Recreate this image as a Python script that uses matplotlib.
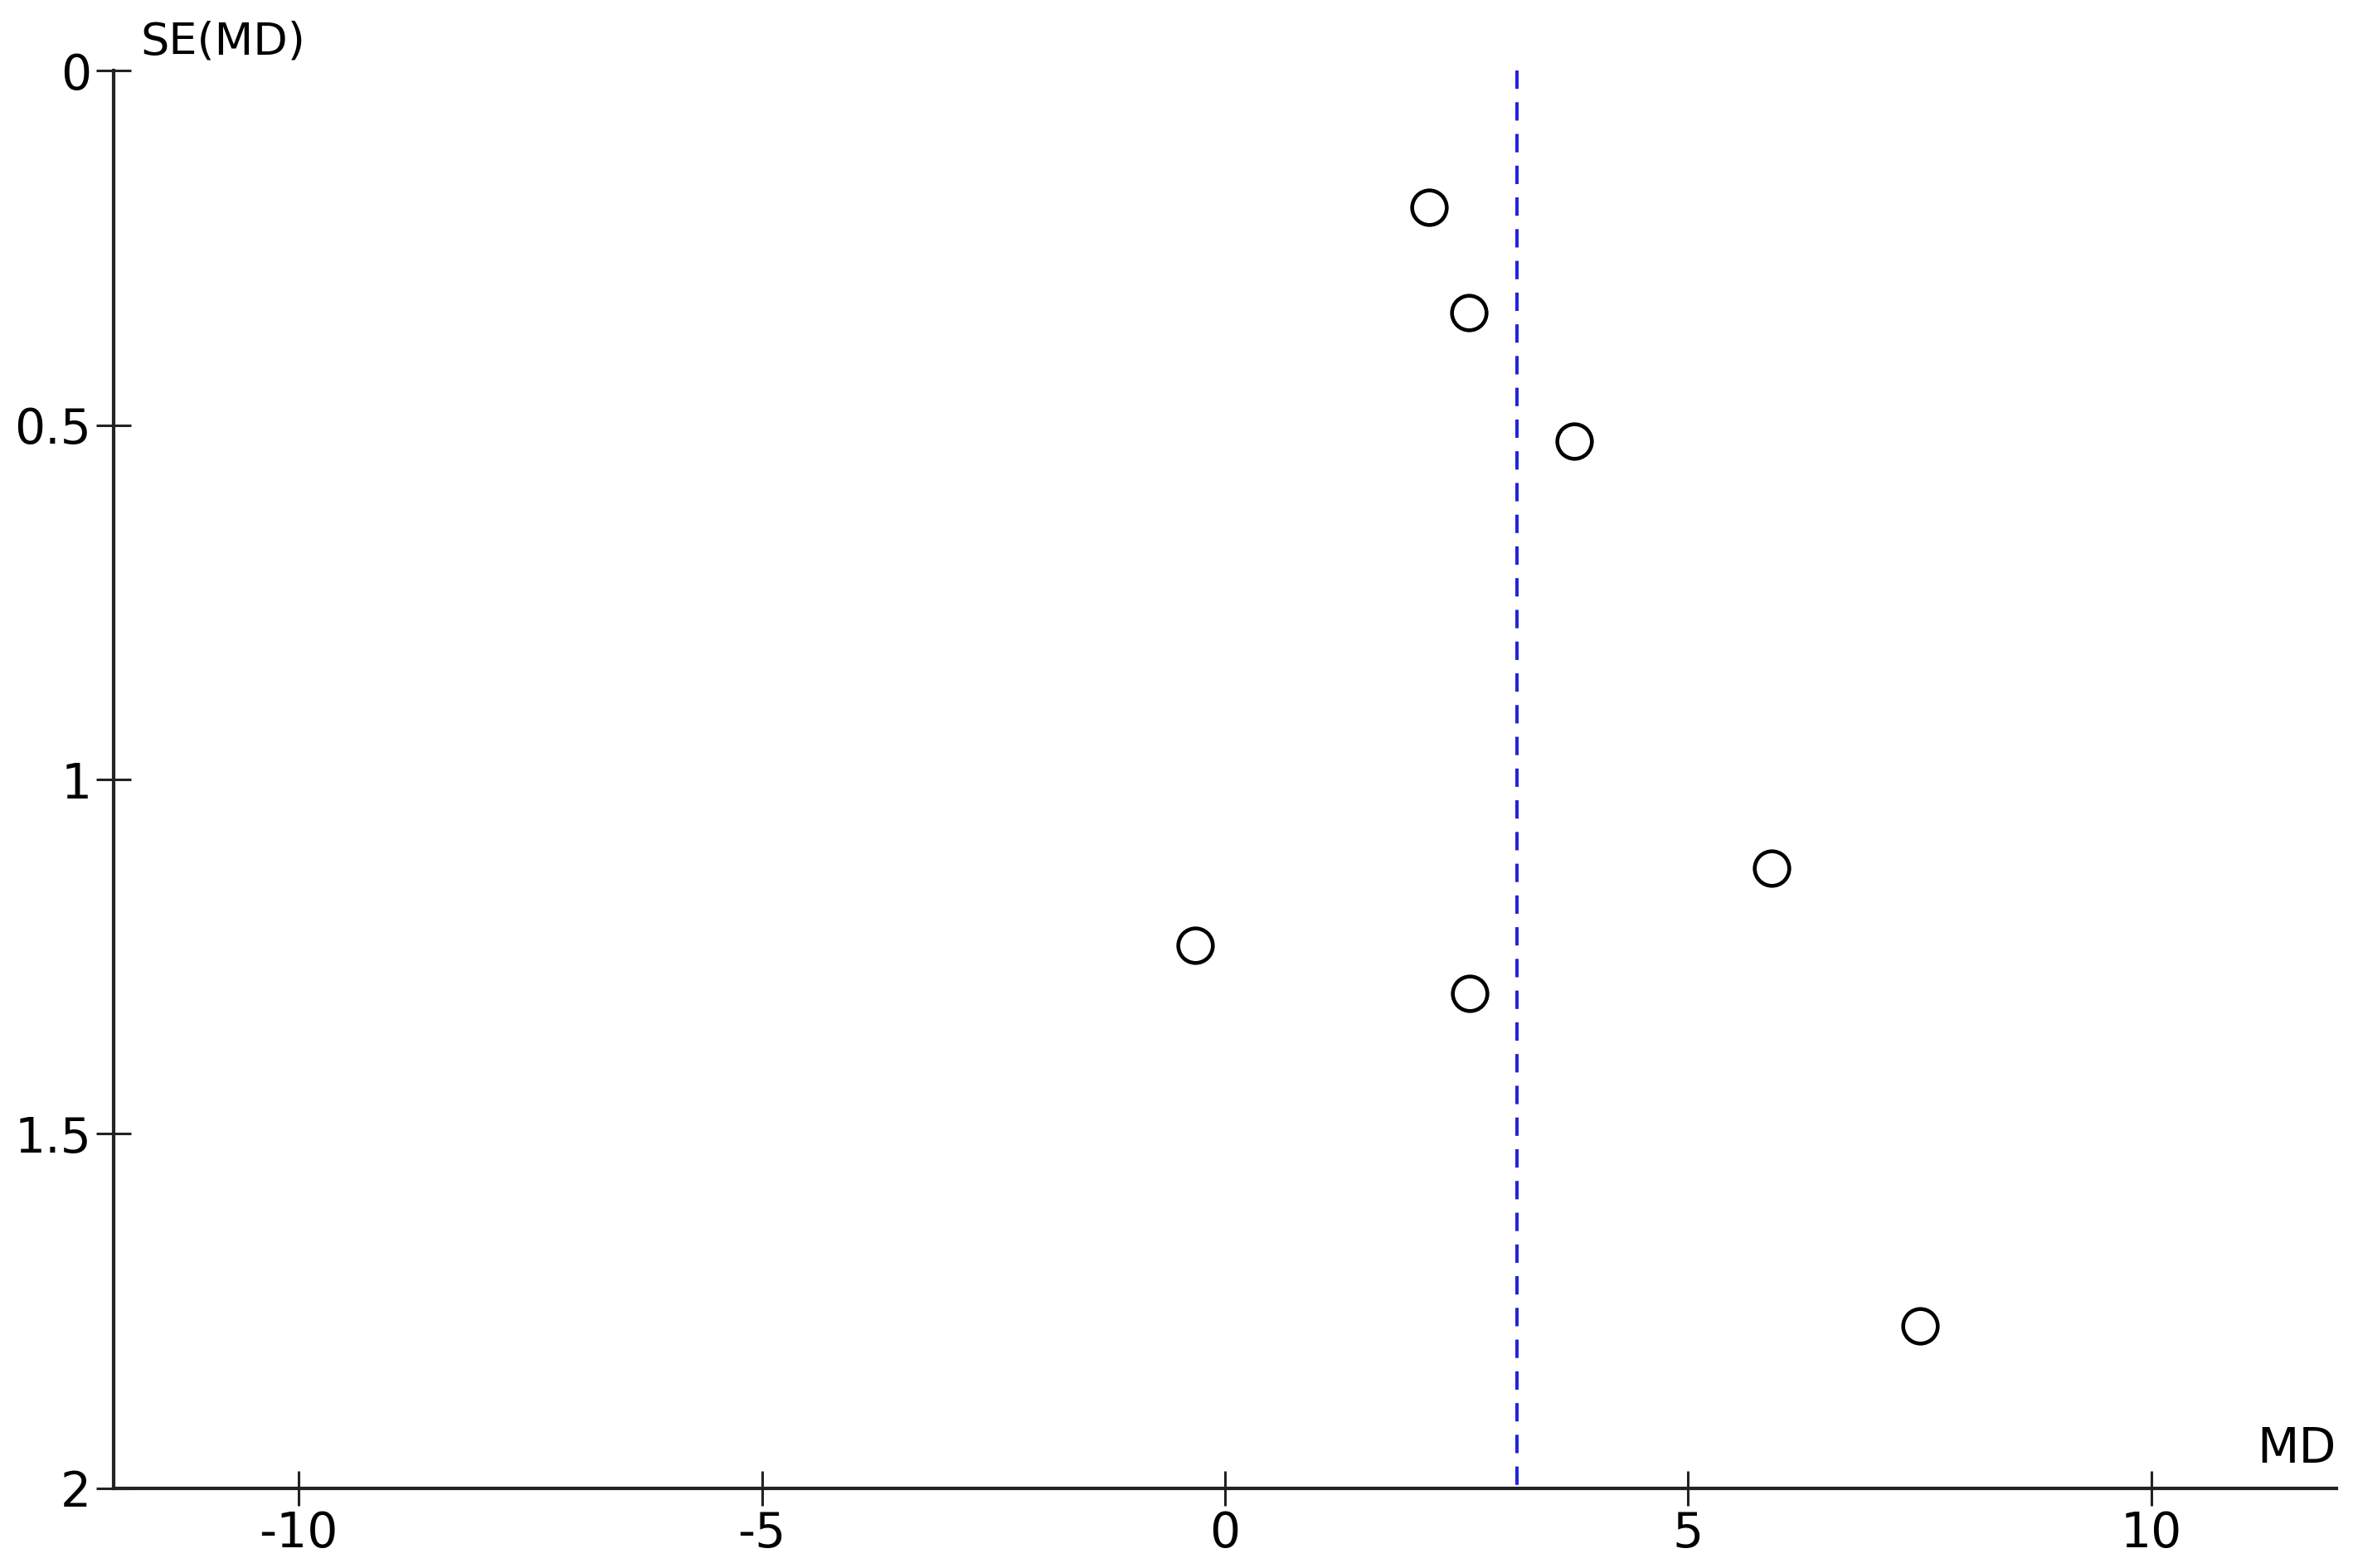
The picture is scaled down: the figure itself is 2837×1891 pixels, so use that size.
import matplotlib
matplotlib.use("Agg")
import matplotlib.pyplot as plt

# Data
md = [2.20, 2.63, 3.77, 5.90, -0.32, 2.64, 7.50]
se = [0.193, 0.341, 0.523, 1.125, 1.234, 1.302, 1.771]
pooled_md = 3.15
xticks = [-10, -5, 0, 5, 10]
yticks = [0, 0.5, 1, 1.5, 2]
ytick_labels = ["0", "0.5", "1", "1.5", "2"]

plt.rcParams['font.family'] = ['DejaVu Sans']
plt.rcParams['axes.unicode_minus'] = False
fig = plt.figure(figsize=(28.37, 18.91), dpi=100)
ax = fig.add_axes([0.0482, 0.0508, 0.993 - 0.0482, 0.955 - 0.0508])

ax.plot([pooled_md, pooled_md], [0, 2], color='#2323dd', lw=2.9,
        dashes=(5.5, 4), zorder=1)
ax.plot(md, se, linestyle='none', marker='o', markersize=30,
        markerfacecolor='white', markeredgecolor='black', markeredgewidth=3.3,
        zorder=3)

ax.set_xlim(-12, 12)
ax.set_ylim(2, 0)
ax.set_xticks(xticks)
ax.set_xticklabels([str(t) for t in xticks])
ax.set_yticks(yticks)
ax.set_yticklabels(ytick_labels)

for s in ['top', 'right']:
    ax.spines[s].set_visible(False)
for s in ['left', 'bottom']:
    ax.spines[s].set_linewidth(3.0)
    ax.spines[s].set_color('#222222')

ax.tick_params(axis='both', direction='inout', length=30, width=2.2,
               color='#222222', labelsize=42, pad=4)

ax.text(0.012, 1.02, "SE(MD)", transform=ax.transAxes, fontsize=39,
        ha='left', va='center')
ax.text(1.0, 0.028, "MD", transform=ax.transAxes, fontsize=42,
        ha='right', va='center')

fig.savefig("out.png", dpi=100, facecolor='white')
